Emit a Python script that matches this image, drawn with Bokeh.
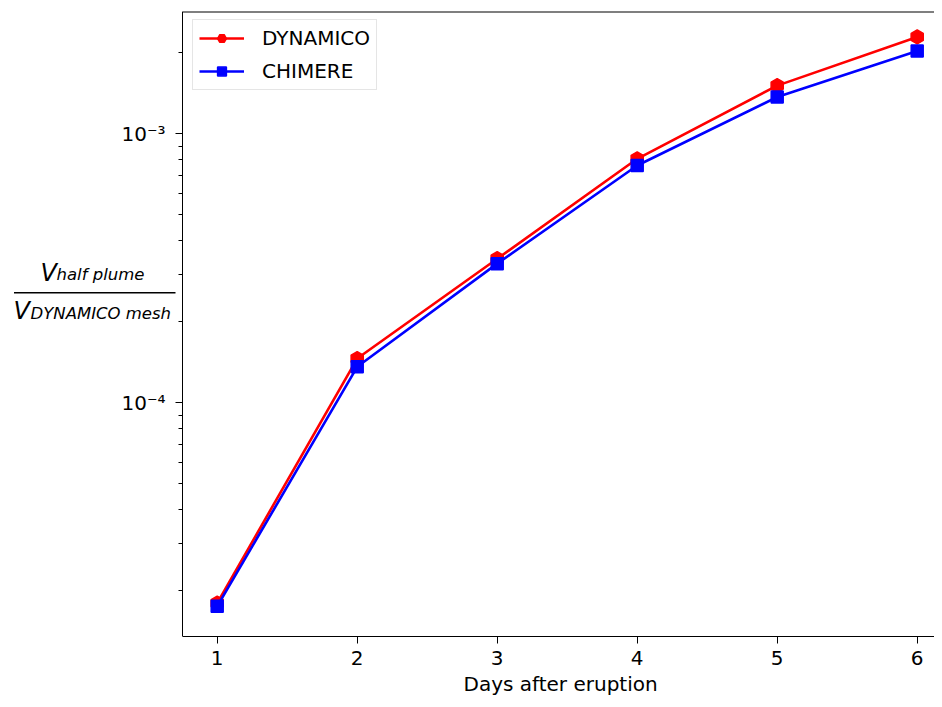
import numpy as np
from bokeh.plotting import figure
from bokeh.models import FixedTicker, Label, Arrow, Range1d, Title
from bokeh.embed import file_html
from bokeh.resources import INLINE

# ---------------- data ----------------
days = [1, 2, 3, 4, 5, 6]
dynamico = [1.80e-5, 1.46e-4, 3.43e-4, 8.07e-4, 1.51e-3, 2.29e-3]
chimere = [1.75e-5, 1.36e-4, 3.29e-4, 7.62e-4, 1.37e-3, 2.03e-3]
series_names = ["DYNAMICO", "CHIMERE"]
series_colors = ["#ff0000", "#0000ff"]
y_major_ticks = [1e-4, 1e-3]
y_major_labels = ["10\u207b\u2074", "10\u207b\u00b3"]
y_minor_ticks = [2e-5, 3e-5, 4e-5, 5e-5, 6e-5, 7e-5, 8e-5, 9e-5,
                 2e-4, 3e-4, 4e-4, 5e-4, 6e-4, 7e-4, 8e-4, 9e-4, 2e-3]
x_label = "Days after eruption"
ylab_num = ["V", "half plume"]
ylab_den = ["V", "DYNAMICO mesh"]

# ---------------- geometry ----------------
FONT = "DejaVu Sans"
W, H = 934, 699
FT, FB = 11, 636            # frame top / bottom (px)
AX_LEFT_PX = 182            # where the y axis sits (px)
PX_PER_DAY = 140.0
DAY1_PX = 216.7

X_START = 1 - DAY1_PX / PX_PER_DAY
X_END = 1 + (W - DAY1_PX) / PX_PER_DAY
X_AXIS = 1 - (DAY1_PX - AX_LEFT_PX) / PX_PER_DAY
Y_START, Y_END = 1.352e-5, 2.848e-3


def sx(px):
    return X_START + px / PX_PER_DAY


def sy(py):
    lo, hi = np.log10(Y_START), np.log10(Y_END)
    return float(10 ** (hi - (py - FT) / (FB - FT) * (hi - lo)))


p = figure(width=W, height=H, y_axis_type="log",
           x_range=Range1d(X_START, X_END), y_range=Range1d(Y_START, Y_END),
           output_backend="svg", toolbar_location=None,
           min_border_left=0, min_border_top=FT,
           min_border_right=0, min_border_bottom=H - FB)
p.outline_line_color = None
p.background_fill_color = "white"
p.border_fill_color = "white"
p.xgrid.visible = False
p.ygrid.visible = False

# top spine (half of it is clipped at the frame edge)
p.segment(x0=[X_AXIS], y0=[Y_END], x1=[X_END], y1=[Y_END],
          line_color="black", line_width=2)

# series
for vals, name, col, mk, sz, ang in [
        (dynamico, series_names[0], series_colors[0], "hex", 14, np.pi / 6),
        (chimere, series_names[1], series_colors[1], "square", 12, 0.0)]:
    p.line(days, vals, line_color=col, line_width=2.6, legend_label=name)
    p.scatter(days, vals, marker=mk, size=sz, angle=ang, fill_color=col,
              line_color=col, line_width=1.5, legend_label=name)

# axes
for ax in (p.xaxis[0], p.yaxis[0]):
    ax.axis_line_color = "black"
    ax.axis_line_width = 1
    ax.major_tick_line_color = "black"
    ax.major_tick_in = 0
    ax.major_tick_out = 7
    ax.minor_tick_in = 0
    ax.minor_tick_out = 4
    ax.minor_tick_line_color = "black"
    ax.major_label_text_font = FONT
    ax.major_label_text_font_size = "20px"
    ax.major_label_text_color = "black"

p.xaxis.ticker = FixedTicker(ticks=days)
p.xaxis.bounds = (X_AXIS, X_END)
p.xaxis.minor_tick_line_color = None
p.xaxis.major_label_standoff = 7

# x label (as a title below, so it can be centred under the axes box)
p.add_layout(Title(text=x_label, align="left", offset=463, standoff=4,
                   text_font=FONT, text_font_size="20px",
                   text_font_style="normal", text_color="black"), "below")

p.yaxis.fixed_location = X_AXIS
p.yaxis.ticker = FixedTicker(ticks=y_major_ticks, minor_ticks=y_minor_ticks)
p.yaxis.major_label_overrides = dict(zip(y_major_ticks, y_major_labels))
p.yaxis.major_label_standoff = 10


# y label drawn as a fraction
def lab(text, px, py, size):
    p.add_layout(Label(x=sx(px), y=sy(py), text=text, text_font=FONT,
                       text_font_style="italic", text_font_size=size,
                       text_color="black", text_align="left",
                       text_baseline="alphabetic"))


lab(ylab_num[0], 40, 272, "24px")
lab(ylab_num[1], 56, 274, "16.5px")
lab(ylab_den[0], 13, 310, "24px")
lab(ylab_den[1], 30, 313, "16.5px")
p.add_layout(Arrow(end=None, x_start=sx(13.5), y_start=sy(292.3),
                   x_end=sx(175), y_end=sy(292.3), line_color="black",
                   line_width=1.5))

# legend
lg = p.legend[0]
lg.location = (AX_LEFT_PX + 10, FB - FT - 10 - 69)
lg.margin = 0
lg.padding = 6
lg.spacing = 9
lg.glyph_width = 45
lg.glyph_height = 22
lg.label_height = 22
lg.label_standoff = 18
lg.label_text_font = FONT
lg.label_text_font_size = "20px"
lg.label_text_color = "black"
lg.border_line_color = "#cccccc"
lg.border_line_width = 1
lg.background_fill_color = "white"
lg.background_fill_alpha = 0.8

open("out.html", "w").write(file_html(p, INLINE))
